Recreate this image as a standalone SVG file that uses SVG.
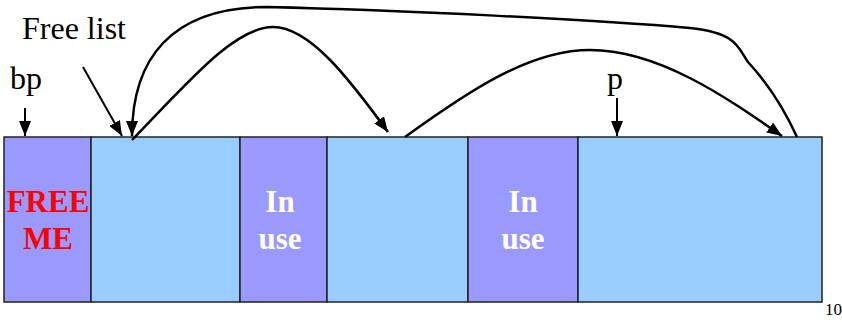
<svg xmlns="http://www.w3.org/2000/svg" width="842" height="322" viewBox="0 0 842 322">
<defs>
<marker id="ah" markerUnits="userSpaceOnUse" markerWidth="16" markerHeight="12" refX="15" refY="6" orient="auto">
<path d="M0,0 L15,6 L0,12 Z" fill="#000"/>
</marker>
</defs>
<style>
.used{fill:#9999FF;stroke:#222;stroke-width:1.5}
.free{fill:#99CCFF;stroke:#222;stroke-width:1.5}
.c{fill:none;stroke:#000;stroke-width:2.5}
.s{fill:none;stroke:#000;stroke-width:2}
</style>
<rect width="842" height="322" fill="#fff"/>
<g id="b1" font-family="Liberation Serif, serif" font-size="31" text-anchor="middle" font-weight="bold"><rect class="used" x="4" y="137" width="87" height="165"/><text x="48" y="212" fill="#FF0000">FREE</text><text x="48" y="249" fill="#FF0000">ME</text></g>
<g id="b2"><rect class="free" x="91" y="137" width="149" height="165"/></g>
<g id="b3" font-family="Liberation Serif, serif" font-size="31" text-anchor="middle" font-weight="bold"><rect class="used" x="240" y="137" width="87" height="165"/><text x="280" y="212" fill="#fff">In</text><text x="280" y="249" fill="#fff">use</text></g>
<g id="b4"><rect class="free" x="327" y="137" width="141" height="165"/></g>
<g id="b5" font-family="Liberation Serif, serif" font-size="31" text-anchor="middle" font-weight="bold"><rect class="used" x="468" y="137" width="110" height="165"/><text x="523" y="212" fill="#fff">In</text><text x="523" y="249" fill="#fff">use</text></g>
<g id="b6"><rect class="free" x="578" y="137" width="244" height="165"/></g>
<g id="labels" font-family="Liberation Serif, serif" font-size="32">
<text x="22" y="39">Free list</text>
<text x="10" y="89">bp</text>
<text x="607" y="89">p</text>
<text x="825" y="315" font-size="17">10</text>
</g>
<g id="connectors">
<path class="s" d="M25,108 L25,136" marker-end="url(#ah)"/>
<path class="s" d="M83,67 L122,136" marker-end="url(#ah)"/>
<path class="s" d="M617,98 L617,136" marker-end="url(#ah)"/>
<path class="c" d="M132,140 C190,80 235,27 273,27 C310,27 350,80 388,132" marker-end="url(#ah)"/>
<path class="c" d="M405,137 C470,90 530,50 590,50 C660,50 730,100 782,136" marker-end="url(#ah)"/>
<path class="c" d="M797,137 C780,100 760,75 748,62 C738,48 738,33 690,28 C600,20 400,10 267,7 C170,7 132,60 132,136" marker-end="url(#ah)"/>
</g>
</svg>
